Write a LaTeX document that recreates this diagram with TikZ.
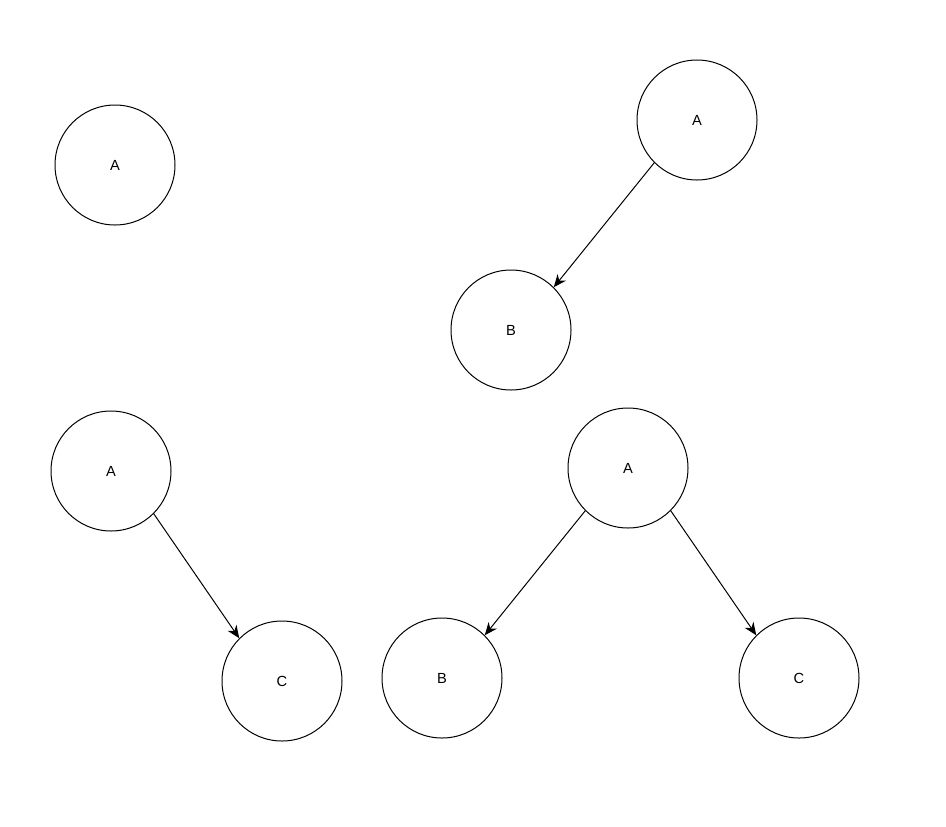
\documentclass[tikz,border=0pt]{standalone}
\usepackage{fontspec}
\setmainfont{Liberation Sans}
\usetikzlibrary{arrows.meta}
\tikzset{
  vert/.style={draw,circle,minimum size=90pt,inner sep=0pt,line width=0.75pt,font=\fontsize{11}{13}\selectfont},
  ar/.style={-{Stealth[length=9.5pt,width=8pt,inset=3pt]},line width=0.75pt}
}
\begin{document}
\begin{tikzpicture}[x=0.75pt,y=-0.75pt]
\useasboundingbox (0,0) rectangle (946,826);
% only the root
\node[vert] (a1) at (115,165) {A};
% root with left child
\node[vert] (a2) at (697,120) {A};
\node[vert] (b2) at (511,330) {B};
\draw[ar] (a2.south west) -- (b2.north east);
% root with right child
\node[vert] (a3) at (111,471) {A};
\node[vert] (c3) at (282,681) {C};
\draw[ar] (a3.south east) -- (c3.north west);
% root with both children
\node[vert] (a4) at (628,468) {A};
\node[vert] (b4) at (442,678) {B};
\node[vert] (c4) at (799,678) {C};
\draw[ar] (a4.south west) -- (b4.north east);
\draw[ar] (a4.south east) -- (c4.north west);
\end{tikzpicture}
\end{document}
